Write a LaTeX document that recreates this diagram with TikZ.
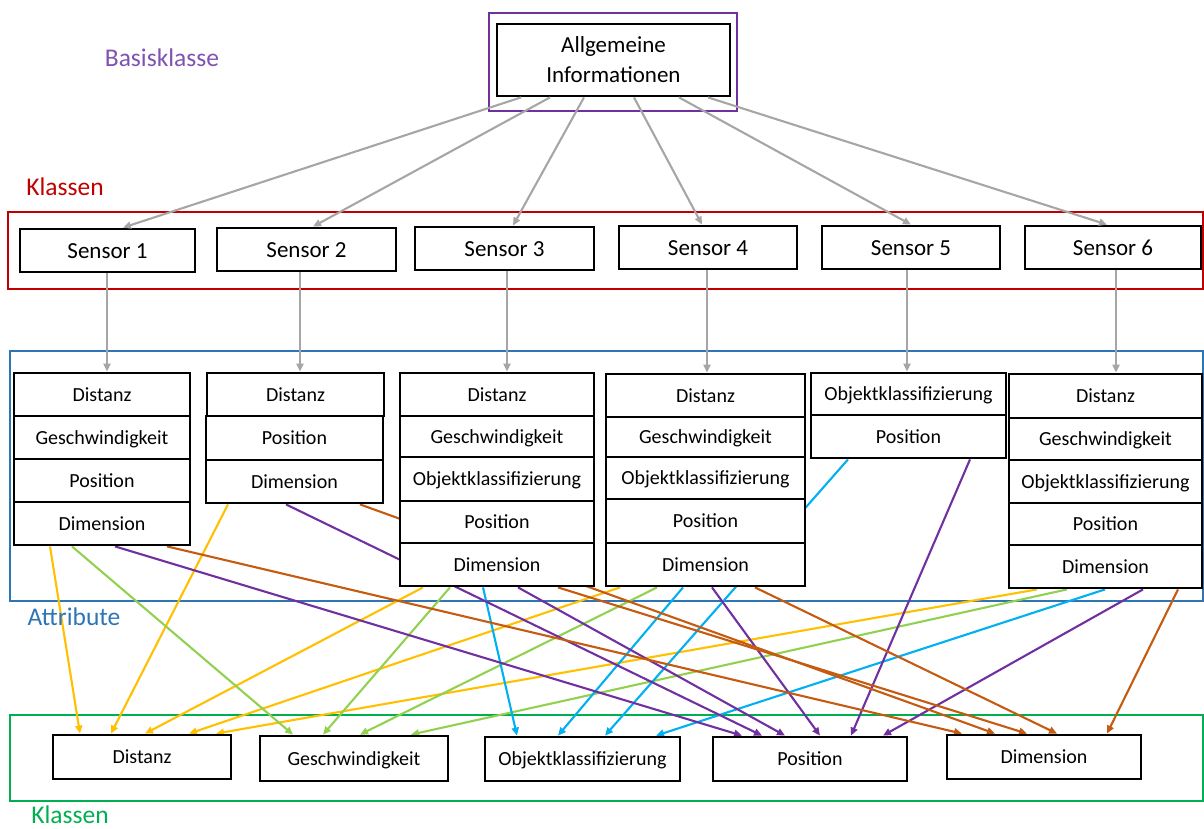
\documentclass[tikz,border=0pt]{standalone}
\usepackage{fontspec}
\setmainfont{Carlito}
\usetikzlibrary{arrows.meta}
\pgfdeclarelayer{background}
\pgfsetlayers{background,main}

\definecolor{cPurple}{HTML}{7030A0}
\definecolor{lblPurple}{HTML}{7F52B2}
\definecolor{cRed}{HTML}{C00000}
\definecolor{cBlue}{HTML}{2E75B6}
\definecolor{cGreen}{HTML}{00B050}
\definecolor{cGray}{HTML}{A6A6A6}
\definecolor{cYellow}{HTML}{FFC000}
\definecolor{cLime}{HTML}{92D050}
\definecolor{cCyan}{HTML}{00B0F0}
\definecolor{cBrown}{HTML}{C55A11}

\tikzset{
  box/.style={draw=black, line width=2.8pt, fill=white, inner sep=0pt, text depth=0pt},
  cell/.style={box, font=\fontsize{20}{24}\selectfont, text height=13pt},
  sensorbox/.style={box, font=\fontsize{23}{28}\selectfont, text height=15pt, minimum height=43pt},
  classbox/.style={cell, minimum height=44pt},
  grouplabel/.style={font=\fontsize{25.5}{30}\selectfont, inner sep=0pt},
  frame/.style={line width=2.2pt},
  link/.style={line width=2.1pt, -{Triangle[length=8pt,width=7pt]}},
  feed/.style={link, draw=cGray}
}

\begin{document}
\begin{tikzpicture}[x=1pt, y=-1pt]
\useasboundingbox (0,0) rectangle (1204,828);

% group labels
\node[grouplabel, text=lblPurple] (lbasis) at (162,58) {Basisklasse};
\node[grouplabel, text=cRed] (lklassen) at (65,187) {Klassen};
\node[grouplabel, text=cBlue] (lattr) at (74,617) {Attribute};
\node[grouplabel, text=cGreen] (lklassen2) at (70,815) {Klassen};

% base class
\node[box, font=\fontsize{23}{30}\selectfont, align=center, minimum width=233pt, minimum height=72pt] (base) at (613.5,60) {Allgemeine\\Informationen};

% sensor classes
\node[sensorbox, minimum width=175pt] (s1) at (107.5,250.5) {Sensor 1};
\node[sensorbox, minimum width=179pt] (s2) at (306.5,249.5) {Sensor 2};
\node[sensorbox, minimum width=179pt] (s3) at (504.5,248.5) {Sensor 3};
\node[sensorbox, minimum width=178pt] (s4) at (708,247.5) {Sensor 4};
\node[sensorbox, minimum width=178pt] (s5) at (911,247.5) {Sensor 5};
\node[sensorbox, minimum width=176pt] (s6) at (1113,247.5) {Sensor 6};

% attributes of sensor 1
\node[cell, minimum width=176pt, minimum height=43pt] (g1d) at (102,394.5) {Distanz};
\node[cell, minimum width=176pt, minimum height=43pt] (g1g) at (102,437.5) {Geschwindigkeit};
\node[cell, minimum width=176pt, minimum height=43pt] (g1p) at (102,480.5) {Position};
\node[cell, minimum width=176pt, minimum height=43pt] (g1m) at (102,523.5) {Dimension};

% attributes of sensor 2
\node[cell, minimum width=177pt, minimum height=43pt] (g2d) at (295.5,394.5) {Distanz};
\node[cell, minimum width=177pt, minimum height=44pt] (g2p) at (294.5,438) {Position};
\node[cell, minimum width=177pt, minimum height=43pt] (g2m) at (294.5,481.5) {Dimension};

% attributes of sensor 3
\node[cell, minimum width=194pt, minimum height=43pt] (g3d) at (497,394.5) {Distanz};
\node[cell, minimum width=194pt, minimum height=41pt] (g3g) at (497,436.5) {Geschwindigkeit};
\node[cell, minimum width=194pt, minimum height=44pt] (g3o) at (497,479) {Objektklassifizierung};
\node[cell, minimum width=194pt, minimum height=42pt] (g3p) at (497,522) {Position};
\node[cell, minimum width=194pt, minimum height=43pt] (g3m) at (497,564.5) {Dimension};

% attributes of sensor 4
\node[cell, minimum width=199pt, minimum height=43pt] (g4d) at (705.5,395.5) {Distanz};
\node[cell, minimum width=199pt, minimum height=40pt] (g4g) at (705.5,437) {Geschwindigkeit};
\node[cell, minimum width=199pt, minimum height=42pt] (g4o) at (705.5,478) {Objektklassifizierung};
\node[cell, minimum width=199pt, minimum height=44pt] (g4p) at (705.5,521) {Position};
\node[cell, minimum width=199pt, minimum height=43pt] (g4m) at (705.5,564.5) {Dimension};

% attributes of sensor 5
\node[cell, minimum width=195pt, minimum height=42pt] (g5o) at (908.5,394) {Objektklassifizierung};
\node[cell, minimum width=195pt, minimum height=43pt] (g5p) at (908.5,436.5) {Position};

% attributes of sensor 6
\node[cell, minimum width=193pt, minimum height=44pt] (g6d) at (1105.5,396) {Distanz};
\node[cell, minimum width=193pt, minimum height=42pt] (g6g) at (1105.5,439) {Geschwindigkeit};
\node[cell, minimum width=193pt, minimum height=43pt] (g6o) at (1105.5,481.5) {Objektklassifizierung};
\node[cell, minimum width=193pt, minimum height=42pt] (g6p) at (1105.5,524) {Position};
\node[cell, minimum width=193pt, minimum height=43pt] (g6m) at (1105.5,566.5) {Dimension};

% target classes
\node[classbox, minimum width=178pt] (cdist) at (142,757) {Distanz};
\node[classbox, minimum width=188pt, minimum height=45pt] (cgesch) at (354,758.5) {Geschwindigkeit};
\node[classbox, minimum width=195pt] (cobj) at (582.5,759) {Objektklassifizierung};
\node[classbox, minimum width=194pt] (cpos) at (810,759) {Position};
\node[classbox, minimum width=194pt] (cdim) at (1044,757) {Dimension};

% inheritance: base class to sensors
\draw[feed] ([xshift=-92.5pt]base.south) -- ([xshift=15.5pt]s1.north);
\draw[feed] ([xshift=-63.5pt]base.south) -- ([xshift=6.5pt]s2.north);
\draw[feed] ([xshift=-29.5pt]base.south) -- ([xshift=8.5pt]s3.north);
\draw[feed] ([xshift=20.5pt]base.south) -- ([xshift=-6pt]s4.north);
\draw[feed] ([xshift=65.5pt]base.south) -- (s5.north);
\draw[feed] ([xshift=94.5pt]base.south) -- ([xshift=-6pt]s6.north);

% sensors to their attributes
\draw[feed] ([xshift=-0.5pt]s1.south) -- ([xshift=-0.5pt]s1.south |- g1d.north);
\draw[feed] ([xshift=-6.5pt]s2.south) -- ([xshift=-6.5pt]s2.south |- g2d.north);
\draw[feed] ([xshift=2.5pt]s3.south) -- ([xshift=2.5pt]s3.south |- g3d.north);
\draw[feed] ([xshift=-1pt]s4.south) -- ([xshift=-1pt]s4.south |- g4d.north);
\draw[feed] ([xshift=-4pt]s5.south) -- ([xshift=-4pt]s5.south |- g5o.north);
\draw[feed] ([xshift=3pt]s6.south) -- ([xshift=3pt]s6.south |- g6d.north);

\begin{pgfonlayer}{background}
  % layer frames
  \draw[frame, cPurple] (489,13) rectangle (737,111);
  \draw[frame, cRed] (8,212) rectangle (1203,289);
  \draw[frame, cBlue] (10,351) rectangle (1203,601);
  \draw[frame, cGreen] (10,715) rectangle (1203,801);

  % Distanz
  \draw[link, cYellow] ([xshift=-52pt]g1m.south) -- ([xshift=-62pt]cdist.north);
  \draw[link, cYellow] ([xshift=-66.5pt]g2m.south) -- ([xshift=-31pt]cdist.north);
  \draw[link, cYellow] ([xshift=-74pt]g3m.south) -- ([xshift=3pt]cdist.north);
  \draw[link, cYellow] ([xshift=-85.5pt]g4m.south) -- ([xshift=47pt]cdist.north);
  \draw[link, cYellow] ([xshift=-68.5pt]g6m.south) -- ([xshift=74pt]cdist.north);

  % Geschwindigkeit
  \draw[link, cLime] ([xshift=-30pt]g1m.south) -- ([xshift=-61pt]cgesch.north);
  \draw[link, cLime] ([xshift=-47pt]g3m.south) -- ([xshift=-31pt]cgesch.north);
  \draw[link, cLime] ([xshift=-48.5pt]g4m.south) -- ([xshift=6pt]cgesch.north);
  \draw[link, cLime] ([xshift=-38.5pt]g6m.south) -- ([xshift=57pt]cgesch.north);

  % Objektklassifizierung
  \draw[link, cCyan] ([xshift=-14pt]g3m.south) -- ([xshift=-65.5pt]cobj.north);
  \draw[link, cCyan] ([xshift=-22.5pt]g4m.south) -- ([xshift=-24.5pt]cobj.north);
  \draw[link, cCyan] ([xshift=-60.5pt]g5p.south) -- ([xshift=22.5pt]cobj.north);
  \draw[link, cCyan] ([xshift=-0.5pt]g6m.south) -- ([xshift=73.5pt]cobj.north);

  % Position
  \draw[link, cPurple] ([xshift=13pt]g1m.south) -- ([xshift=-68pt]cpos.north);
  \draw[link, cPurple] ([xshift=-8.5pt]g2m.south) -- ([xshift=-48pt]cpos.north);
  \draw[link, cPurple] ([xshift=21pt]g3m.south) -- ([xshift=-25pt]cpos.north);
  \draw[link, cPurple] ([xshift=6.5pt]g4m.south) -- ([xshift=10pt]cpos.north);
  \draw[link, cPurple] ([xshift=61.5pt]g5p.south) -- ([xshift=41pt]cpos.north);
  \draw[link, cPurple] ([xshift=37.5pt]g6m.south) -- ([xshift=73pt]cpos.north);

  % Dimension
  \draw[link, cBrown] ([xshift=65pt]g1m.south) -- ([xshift=-82pt]cdim.north);
  \draw[link, cBrown] ([xshift=65.5pt]g2m.south) -- ([xshift=-49pt]cdim.north);
  \draw[link, cBrown] ([xshift=61pt]g3m.south) -- ([xshift=-17pt]cdim.north);
  \draw[link, cBrown] ([xshift=49.5pt]g4m.south) -- ([xshift=13pt]cdim.north);
  \draw[link, cBrown] ([xshift=72.5pt]g6m.south) -- ([xshift=63pt]cdim.north);
\end{pgfonlayer}
\end{tikzpicture}
\end{document}
